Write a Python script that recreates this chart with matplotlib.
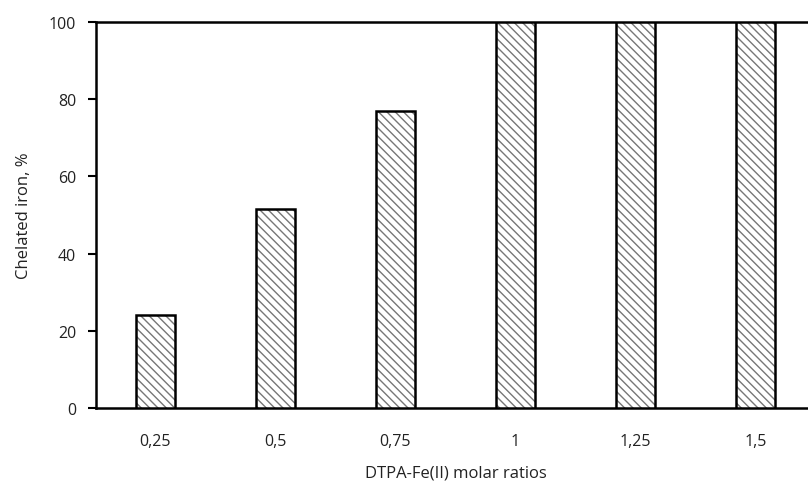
import matplotlib
matplotlib.use("Agg")
import matplotlib.pyplot as plt

ratios = ["0,25", "0,5", "0,75", "1", "1,25", "1,5"]
chelated = [24, 51.5, 77, 100, 100, 100]
yticks = [0, 20, 40, 60, 80, 100]

plt.rcParams["font.family"] = ["Open Sans", "DejaVu Sans"]
plt.rcParams["hatch.linewidth"] = 1.0

fig = plt.figure(figsize=(8.08, 4.89), dpi=100)
ax = fig.add_axes([95.5 / 808, 1 - 409 / 489, 720 / 808, 386 / 489])

x = list(range(len(ratios)))
# hatched fill, then a solid outline on top
ax.bar(x, chelated, width=0.33, color="white", edgecolor="#777777",
       linewidth=0, hatch="\\\\\\\\", zorder=3)
ax.bar(x, chelated, width=0.33, fill=False, edgecolor="black",
       linewidth=1.8, zorder=4)

ax.set_xlim(-0.5, len(ratios) - 0.5)
ax.set_ylim(0, 100)
ax.set_xticks(x)
ax.set_xticklabels(ratios)
ax.set_yticks(yticks)
ax.tick_params(axis="x", length=0, pad=18, labelsize=11.5, colors="#222222")
ax.tick_params(axis="y", length=6, width=1.5, direction="out", pad=8,
               labelsize=11.5, labelcolor="#222222")

for side in ["left", "bottom", "top", "right"]:
    ax.spines[side].set_linewidth(1.8)

ax.set_xlabel("DTPA-Fe(II) molar ratios", fontsize=12, labelpad=11, color="#222222")
ax.set_ylabel("Chelated iron, %", fontsize=12, labelpad=12, color="#222222")

fig.savefig("out.png", dpi=100)
